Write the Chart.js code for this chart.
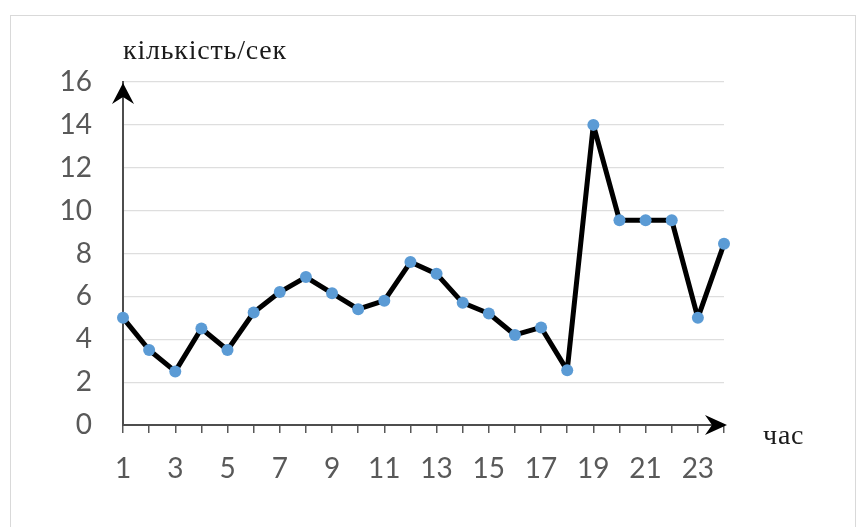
<!DOCTYPE html>
<html>
<head>
<meta charset="utf-8">
<script src="https://cdn.jsdelivr.net/npm/chart.js@4/dist/chart.umd.min.js"></script>
<style>
  html, body { margin: 0; padding: 0; background: #ffffff; }
  #wrap { position: relative; width: 857px; height: 527px; }
  canvas { display: block; }
</style>
</head>
<body>
<div id="wrap"><canvas id="c" width="857" height="527"></canvas></div>
<script>
// ---- data ----
const hours = ['1','2','3','4','5','6','7','8','9','10','11','12','13','14','15','16','17','18','19','20','21','22','23','24'];
const perSecond = [5, 3.5, 2.5, 4.5, 3.5, 5.25, 6.2, 6.9, 6.15, 5.4, 5.8, 7.6, 7.05, 5.7, 5.2, 4.2, 4.55, 2.55, 14, 9.55, 9.55, 9.55, 5, 8.45];
const yTicks = [0, 2, 4, 6, 8, 10, 12, 14, 16];
const yAxisTitle = 'кількість/сек';
const xAxisTitle = 'час';

const decorPlugin = {
  id: 'decor',
  beforeDraw(chart) {
    const ctx = chart.ctx;
    ctx.save();
    ctx.fillStyle = '#ffffff';
    ctx.fillRect(0, 0, chart.width, chart.height);
    ctx.strokeStyle = '#d9d9d9';
    ctx.lineWidth = 1;
    ctx.strokeRect(10.5, 15.5, 845, 530);
    ctx.restore();
  },
  afterDatasetsDraw(chart) {
    const ctx = chart.ctx;
    const x = chart.scales.x, y = chart.scales.y;
    const ax = x.left, ay = y.bottom;
    ctx.save();
    ctx.fillStyle = '#000000';
    // y arrow (stealth style)
    const ty = y.top + 1;
    ctx.beginPath();
    ctx.moveTo(ax, ty);
    ctx.lineTo(ax + 11, ty + 21);
    ctx.lineTo(ax, ty + 14);
    ctx.lineTo(ax - 11, ty + 21);
    ctx.closePath();
    ctx.fill();
    // x arrow
    const tx = x.right + 3;
    ctx.beginPath();
    ctx.moveTo(tx, ay);
    ctx.lineTo(tx - 22, ay - 10);
    ctx.lineTo(tx - 15, ay);
    ctx.lineTo(tx - 22, ay + 10);
    ctx.closePath();
    ctx.fill();
    // axis titles
    ctx.fillStyle = '#1a1a1a';
    ctx.font = '28px "Liberation Serif", "Times New Roman", serif';
    if ('letterSpacing' in ctx) ctx.letterSpacing = '0.8px';
    ctx.textBaseline = 'middle';
    ctx.textAlign = 'left';
    ctx.fillText(yAxisTitle, ax, 52);
    ctx.fillText(xAxisTitle, 763, ay + 12);
    ctx.restore();
  }
};

new Chart(document.getElementById('c'), {
  type: 'line',
  data: {
    labels: hours,
    datasets: [{
      data: perSecond,
      borderColor: '#000000',
      borderWidth: 5,
      borderJoinStyle: 'round',
      borderCapStyle: 'round',
      tension: 0,
      pointRadius: 6,
      pointHoverRadius: 6,
      pointBackgroundColor: '#5b9bd5',
      pointBorderColor: '#5b9bd5',
      pointBorderWidth: 0,
      fill: false
    }]
  },
  options: {
    responsive: false,
    animation: false,
    events: [],
    layout: { padding: { top: 82, right: 133, left: 0, bottom: 0 } },
    plugins: { legend: { display: false }, tooltip: { enabled: false }, title: { display: false } },
    scales: {
      x: {
        type: 'category',
        offset: false,
        afterFit(s) { s.height = 102; },
        border: { display: true, color: '#4d4d4d', width: 2 },
        grid: { display: true, drawOnChartArea: false, drawTicks: true, tickLength: 8, color: '#595959', lineWidth: 1.5 },
        ticks: {
          autoSkip: false, maxRotation: 0, minRotation: 0, padding: 19,
          color: '#595959',
          font: { family: 'Lato', size: 28, lineHeight: 1.2 },
          callback(val, idx) { return idx % 2 === 0 ? hours[idx] : ''; }
        }
      },
      y: {
        min: yTicks[0], max: yTicks[yTicks.length - 1],
        afterFit(s) { s.width = 123; },
        afterBuildTicks(s) { s.ticks = yTicks.map(v => ({ value: v })); },
        border: { display: true, color: '#4d4d4d', width: 2 },
        grid: { color: '#dedede', lineWidth: 1.2, drawTicks: false, tickLength: 0 },
        ticks: {
          padding: 31,
          color: '#595959',
          font: { family: 'Lato', size: 28, lineHeight: 1.2 }
        }
      }
    }
  },
  plugins: [decorPlugin]
});
</script>
</body>
</html>
